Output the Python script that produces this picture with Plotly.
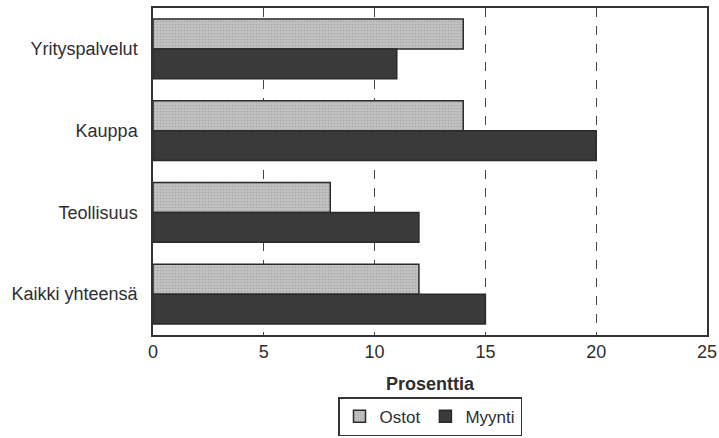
import plotly.graph_objects as go

categories = ["Yrityspalvelut", "Kauppa", "Teollisuus", "Kaikki yhteensä"]
ostot = [14, 14, 8, 12]
myynti = [11, 20, 12, 15]
x_ticks = [0, 5, 10, 15, 20, 25]
x_title = "Prosenttia"

fig = go.Figure()
fig.add_trace(go.Bar(
    y=categories, x=ostot, name="Ostot", orientation="h",
    marker=dict(color="#c2c2c2", line=dict(color="#2a2a2a", width=1.5),
                pattern=dict(shape=".", fgcolor="#8a8a8a", size=3, solidity=0.25)),
))
fig.add_trace(go.Bar(
    y=categories, x=myynti, name="Myynti", orientation="h",
    marker=dict(color="#3a3a3a", line=dict(color="#2a2a2a", width=1.5)),
))

fig.update_layout(
    width=719, height=438,
    margin=dict(l=153, r=12, t=8, b=103),
    barmode="group", bargap=0.27, bargroupgap=0,
    plot_bgcolor="white", paper_bgcolor="white",
    font=dict(family="Liberation Sans, Arial, sans-serif", size=18, color="#2e2e2e"),
    showlegend=True,
    legend=dict(orientation="h", x=0.5, xanchor="center",
                yref="container", y=0.004, yanchor="bottom",
                bordercolor="#333333", borderwidth=1.5,
                font=dict(size=17, family="Liberation Sans, Arial, sans-serif", color="#2e2e2e"),
                itemwidth=30, tracegroupgap=0, valign="middle"),
    xaxis=dict(range=[0, 25], tickvals=x_ticks, showgrid=True, griddash="dash",
               gridcolor="#444444", gridwidth=1, zeroline=False, automargin=False,
               showline=True, mirror=True, linecolor="#333333", linewidth=1.5,
               ticks="", ticklabeloverflow="allow", tickfont=dict(size=18)),
    yaxis=dict(autorange="reversed", showgrid=False, showline=True, mirror=True,
               automargin=False,
               linecolor="#333333", linewidth=1.5, ticks="", ticklabelstandoff=10,
               tickfont=dict(size=18)),
    annotations=[dict(text="<b>" + x_title + "</b>", xref="paper", yref="paper",
                      x=0.5, y=-0.15, xanchor="center", yanchor="middle",
                      showarrow=False, font=dict(size=18))],
)

fig.write_html("out.html", config={"displayModeBar": False},
               post_script="document.body.style.margin='0px';")
